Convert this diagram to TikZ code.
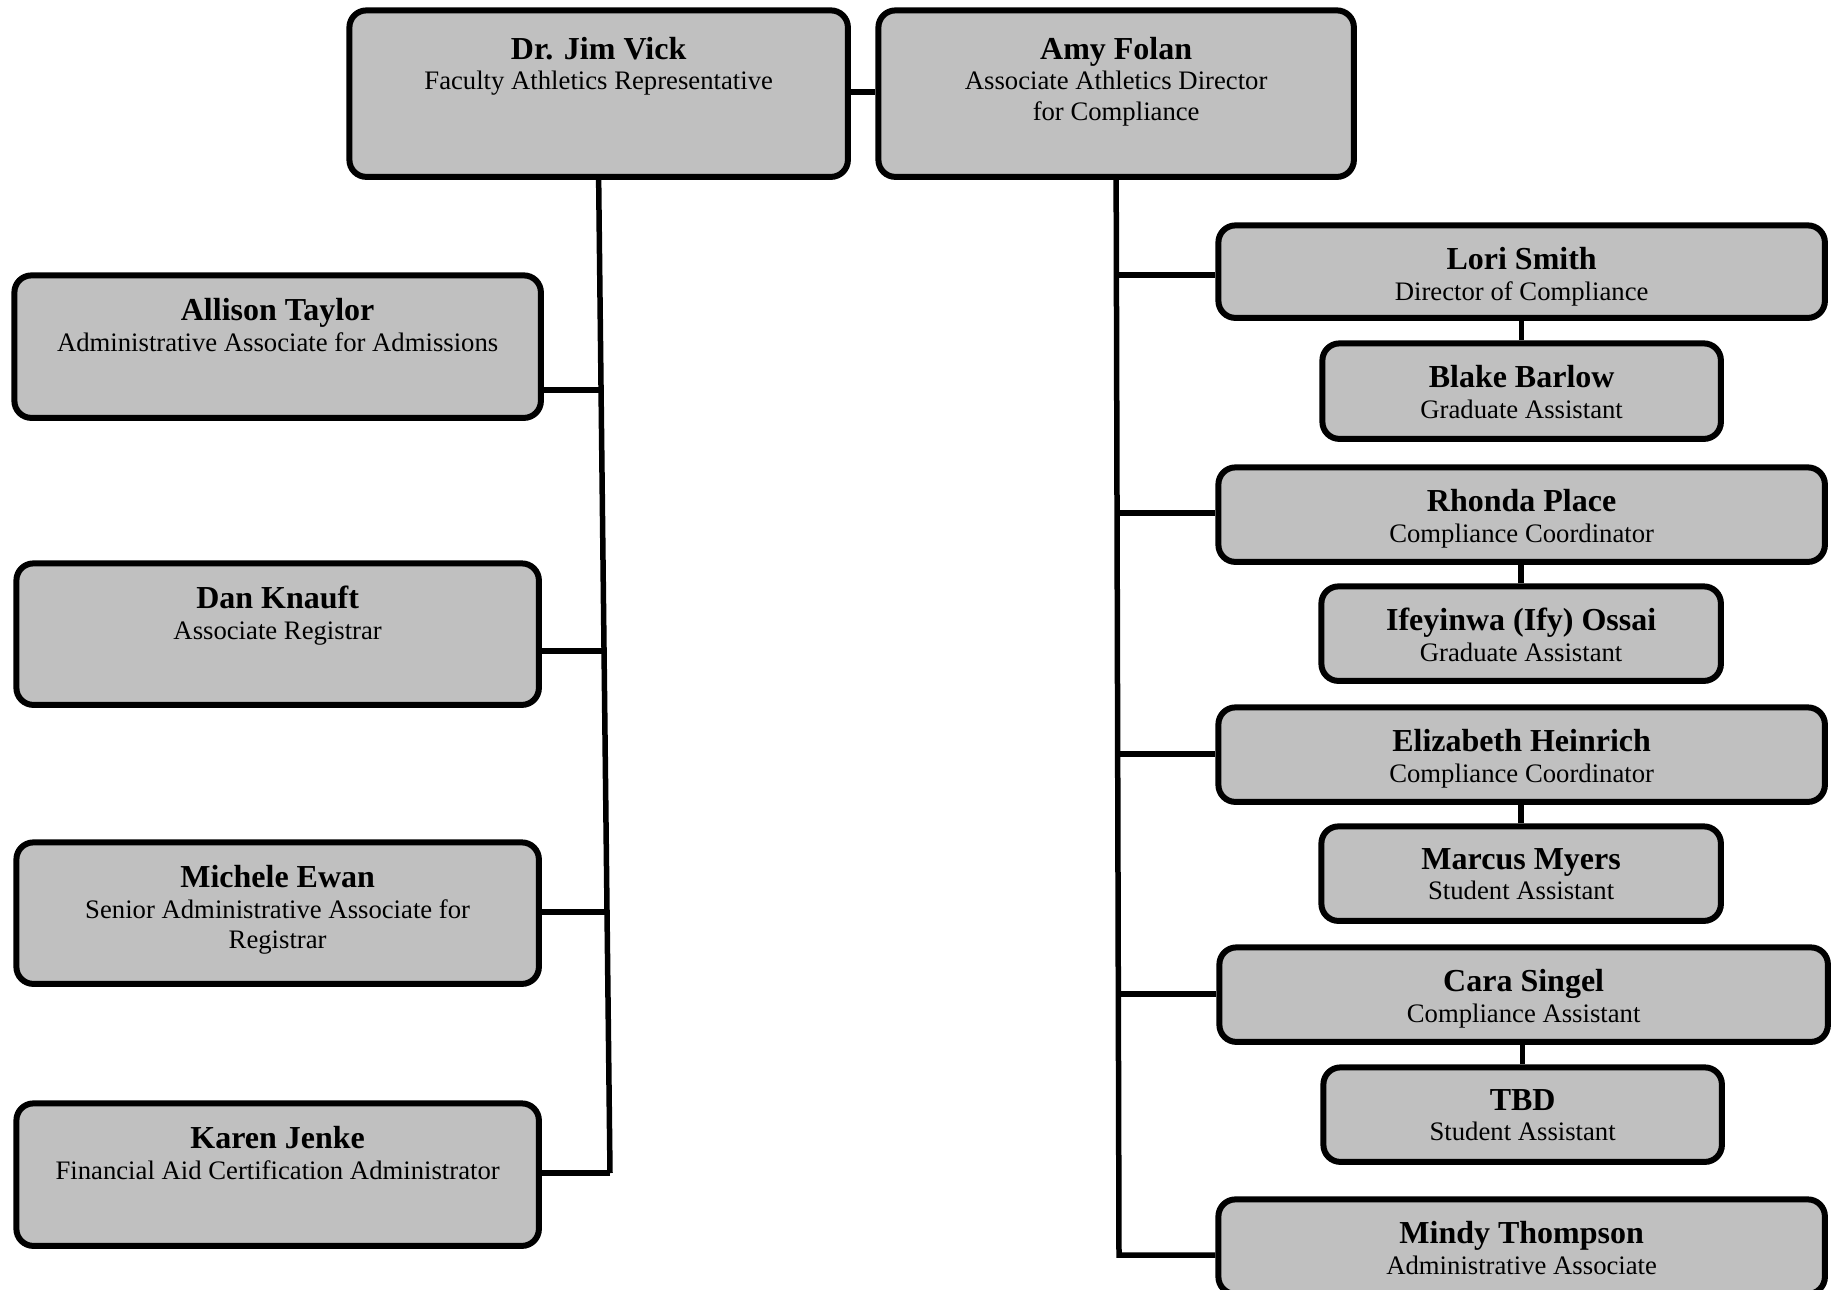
\documentclass[tikz,border=0pt]{standalone}
\usepackage{fontspec}
\setmainfont{Liberation Serif}
\begin{document}
\begin{tikzpicture}[x=1pt,y=-1pt,
  orgbox/.style={draw=black, line width=6pt, fill=boxgray, rounded corners=17pt, inner sep=0pt},
  orgtext/.style={align=center, inner sep=0pt, font=\fontsize{26.7}{30.3}\selectfont},
  conn/.style={line width=5.5pt, black}]
\definecolor{boxgray}{HTML}{C0C0C0}
\newcommand\obox[8]{%
  \node[orgbox, minimum width=#4-#2-1.5, minimum height=#5-#3-1.5, anchor=north west] (#1) at (#2-1.6,#3-1.6) {};
  \node[orgtext, anchor=north] (#1t) at ([yshift=-#8pt]#1.north) {{\fontsize{32}{33}\selectfont\bfseries #6}\\[0.5pt]#7};
}
\useasboundingbox (0,0) rectangle (1836,1290);
% top boxes
\obox{jim}{348}{9}{848}{177}{Dr. Jim Vick}{Faculty Athletics Representative}{29.3}
\obox{amy}{877}{9}{1354}{177}{Amy Folan}{Associate Athletics Director\\for Compliance}{29.3}
% left boxes
\obox{allison}{13}{274}{541}{418}{Allison Taylor}{Administrative Associate for Admissions}{25.8}
\obox{dan}{15}{562}{539}{705}{Dan Knauft}{Associate Registrar}{25.8}
\obox{michele}{15}{841}{539}{984}{Michele Ewan}{Senior Administrative Associate for\\Registrar}{25.8}
\obox{karen}{15}{1102}{539}{1246}{Karen Jenke}{Financial Aid Certification Administrator}{25.8}
% right boxes
\obox{lori}{1217}{224}{1825}{318}{Lori Smith}{Director of Compliance}{24.6}
\obox{blake}{1321}{342}{1721}{439}{Blake Barlow}{Graduate Assistant}{24.6}
\obox{rhonda}{1217}{466}{1825}{562}{Rhonda Place}{Compliance Coordinator}{24.6}
\obox{ify}{1320}{585}{1721}{681}{Ifeyinwa (Ify) Ossai}{Graduate Assistant}{24.6}
\obox{eliz}{1217}{706}{1825}{802}{Elizabeth Heinrich}{Compliance Coordinator}{24.6}
\obox{marcus}{1320}{825}{1721}{921}{Marcus Myers}{Student Assistant}{24.6}
\obox{cara}{1218}{946}{1828}{1042}{Cara Singel}{Compliance Assistant}{24.6}
\obox{tbd}{1322}{1066}{1722}{1162}{TBD}{Student Assistant}{24.6}
\obox{mindy}{1217}{1198}{1825}{1294}{Mindy Thompson}{Administrative Associate}{24.6}
% connectors
\draw[conn] (jim.east |- 0,92) -- (amy.west |- 0,92);
\coordinate (jtop) at (jim.south);
\coordinate (jbot) at (610,1173);
\draw[conn] (jtop) -- (jbot);
\coordinate (j1) at (600.6,390);
\coordinate (j2) at (603.7,651);
\coordinate (j3) at (606.9,912);
\draw[conn] (j1) -- (j1 -| allison.east);
\draw[conn] (j2) -- (j2 -| dan.east);
\draw[conn] (j3) -- (j3 -| michele.east);
\draw[conn] (jbot) -- (jbot -| karen.east);
\coordinate (abot) at (1119,1255);
\draw[conn] (amy.south) -- (abot) -- (abot -| mindy.west);
\coordinate (a1) at (1116,275);
\coordinate (a2) at (1117,513);
\coordinate (a3) at (1118,754);
\coordinate (a4) at (1118,994);
\draw[conn] (a1) -- (a1 -| lori.west);
\draw[conn] (a2) -- (a2 -| rhonda.west);
\draw[conn] (a3) -- (a3 -| eliz.west);
\draw[conn] (a4) -- (a4 -| cara.west);
\draw[conn] (lori.south -| blake.north) -- (blake.north);
\draw[conn] (rhonda.south -| ify.north) -- (ify.north);
\draw[conn] (eliz.south -| marcus.north) -- (marcus.north);
\draw[conn] (cara.south -| tbd.north) -- (tbd.north);
\end{tikzpicture}
\end{document}
